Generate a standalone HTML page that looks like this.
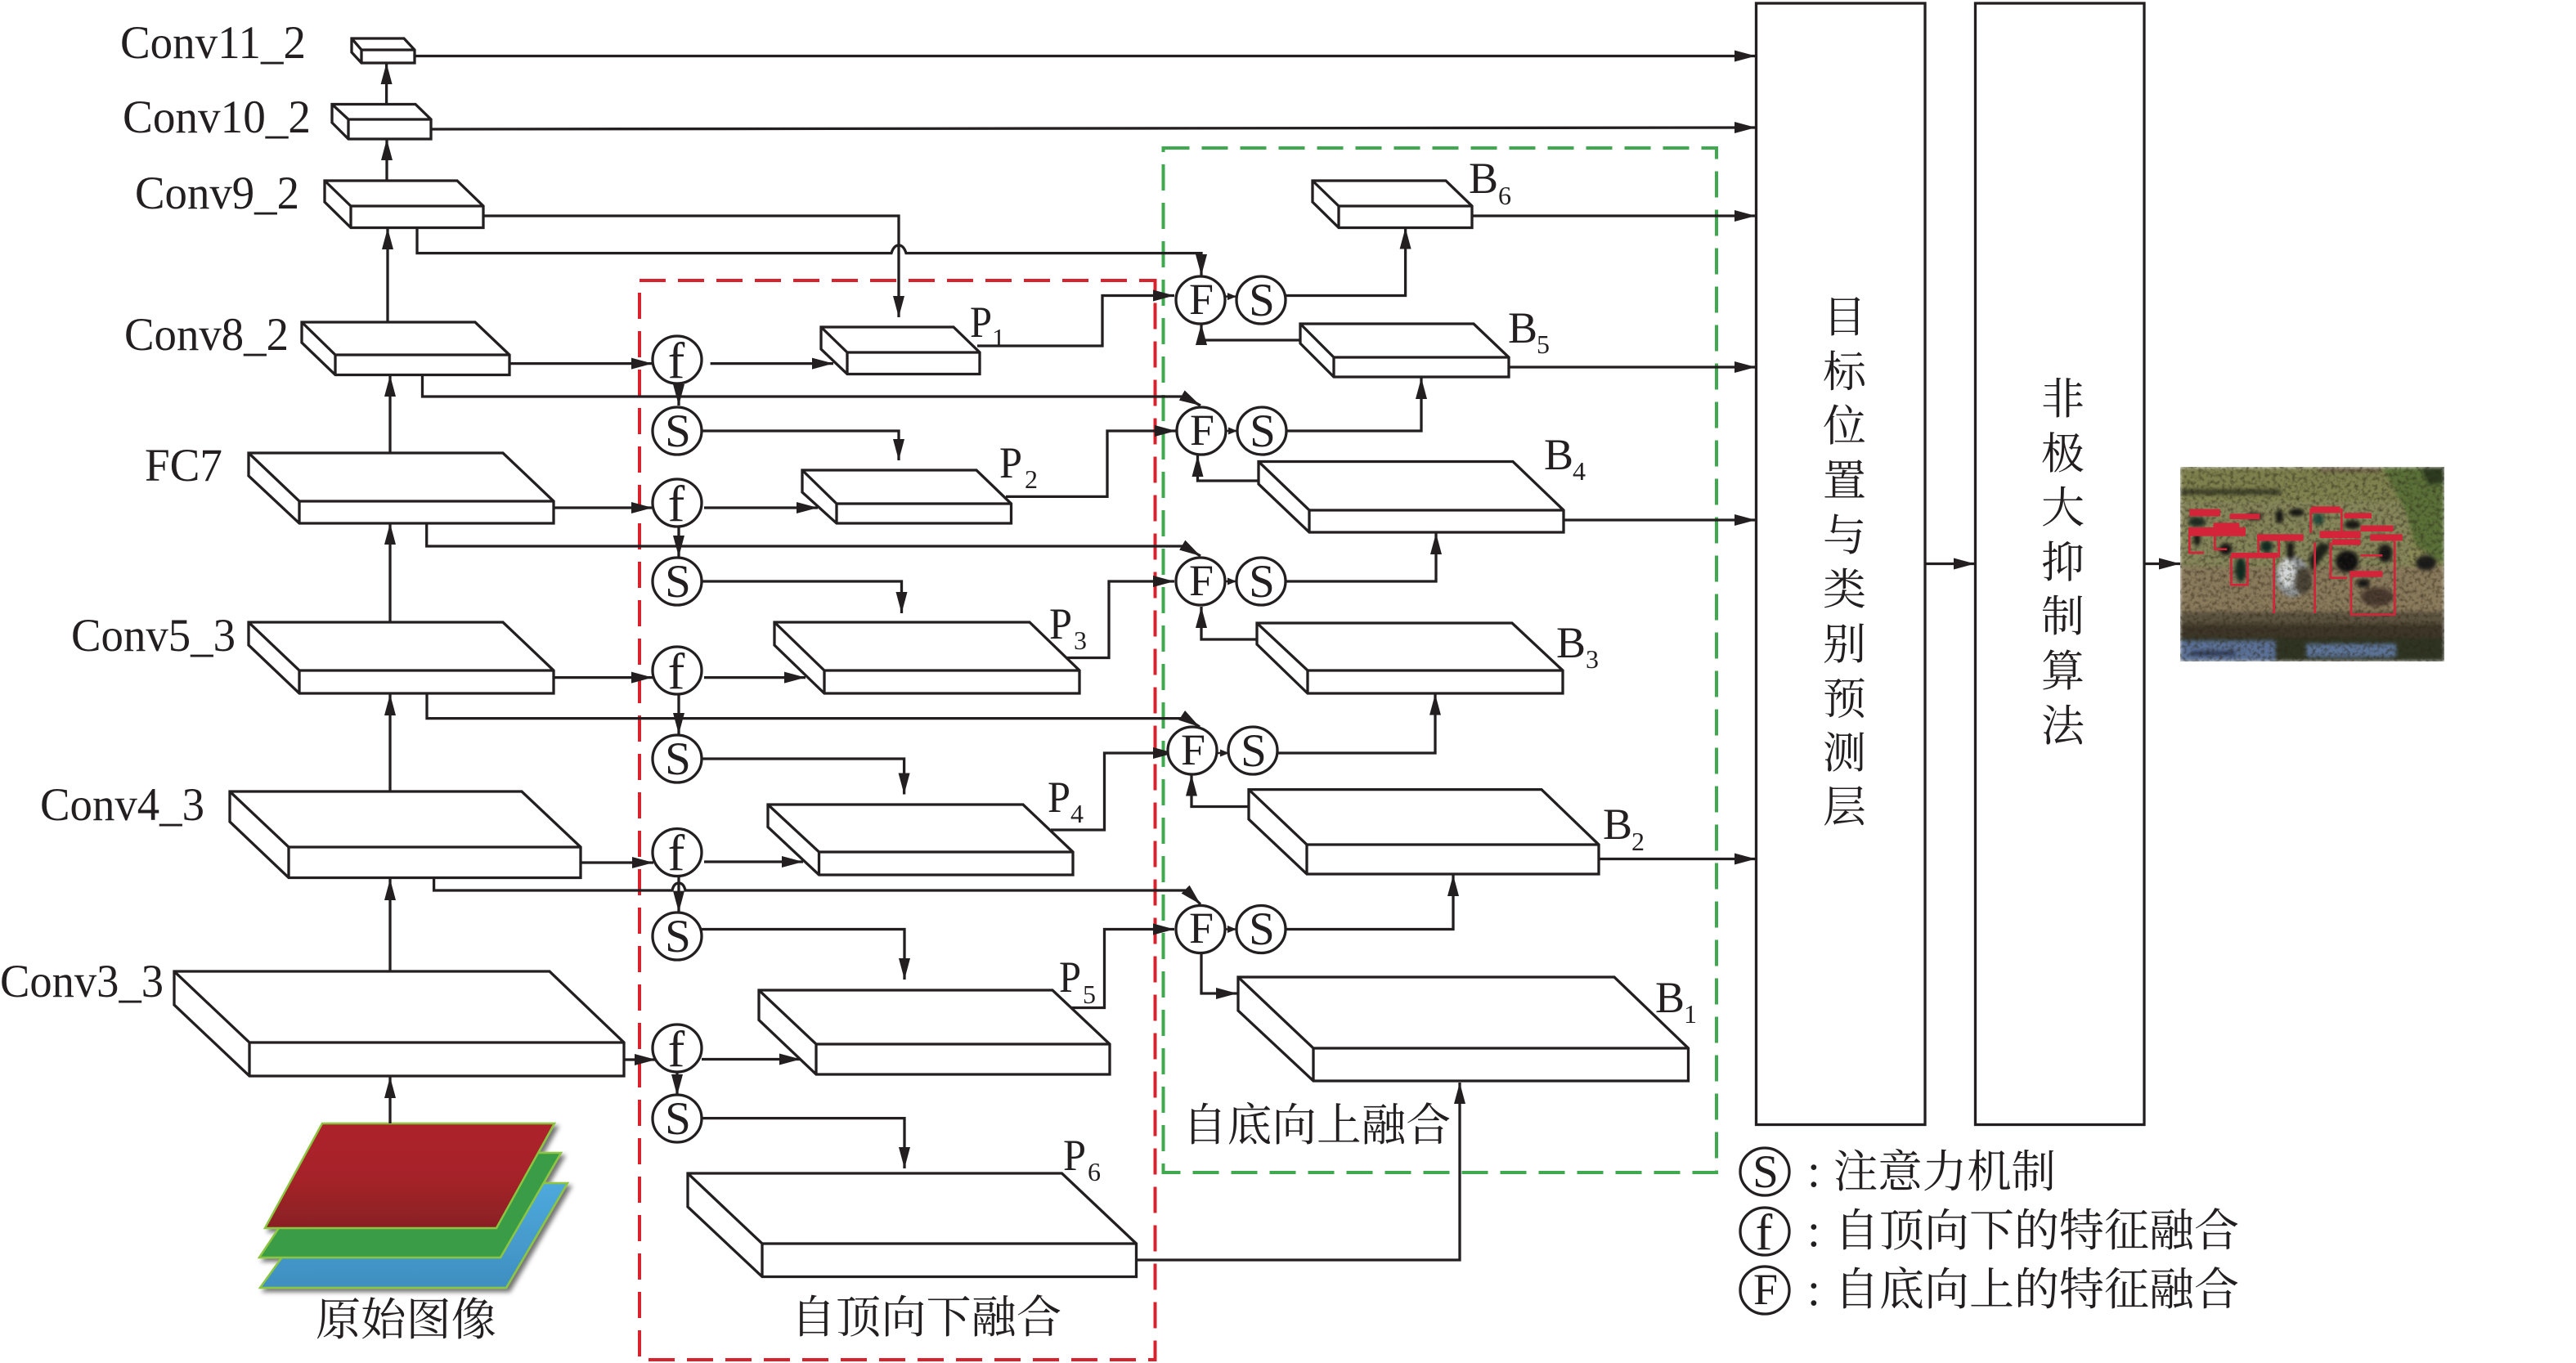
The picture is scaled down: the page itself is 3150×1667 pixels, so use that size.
<!DOCTYPE html>
<html><head><meta charset="utf-8"><style>
html,body{margin:0;padding:0;background:#fff}
svg{display:block}
text{fill:#231f20;font-family:"Liberation Serif",serif}
.l{font-size:57px}
.p{font-size:54px}
.u{font-size:32px}
.c{font-size:55px;font-family:"Liberation Serif","Noto Serif CJK SC",serif}
.z{font-family:"Noto Serif CJK SC","Liberation Serif",serif;font-size:53px}
.S{font-size:57px;text-anchor:middle}
.f{font-size:62px;text-anchor:middle}
.F{font-size:54px;text-anchor:middle}
</style></head><body>
<svg xmlns="http://www.w3.org/2000/svg" width="3150" height="1667" viewBox="0 0 3150 1667">
<defs>
<marker id="a" markerUnits="userSpaceOnUse" markerWidth="28" markerHeight="16" refX="26" refY="7" orient="auto"><path d="M0 0L26 7L0 14z" fill="#231f20"/></marker>
<marker id="b" markerUnits="userSpaceOnUse" markerWidth="12" markerHeight="10" refX="11" refY="4.5" orient="auto"><path d="M0 0L11 4.500L0 9z" fill="#231f20"/></marker>
<linearGradient id="gr" x1="0" y1="0" x2="0" y2="1"><stop offset="0" stop-color="#ad2329"/><stop offset=".5" stop-color="#a62329"/><stop offset="1" stop-color="#891f24"/></linearGradient>
<linearGradient id="gb" x1="0" y1="0" x2="0" y2="1"><stop offset="0" stop-color="#4ea9dc"/><stop offset="1" stop-color="#3f8fc0"/></linearGradient>
<filter id="sh" x="-10%" y="-10%" width="125%" height="125%"><feDropShadow dx="4" dy="4" stdDeviation="3" flood-color="#000" flood-opacity=".55"/></filter>
<linearGradient id="ph1" x1="0" y1="0" x2="0" y2="1"><stop offset="0" stop-color="#7c7f4c"/><stop offset=".5" stop-color="#8a8a58"/><stop offset="1" stop-color="#7c7a50"/></linearGradient>
<filter id="grain" x="0" y="0" width="100%" height="100%" color-interpolation-filters="sRGB"><feGaussianBlur in="SourceGraphic" stdDeviation="7" result="b"/><feTurbulence type="fractalNoise" baseFrequency=".07" numOctaves="2" seed="5"/><feColorMatrix values="0 0 0 0 .16  0 0 0 0 .14  0 0 0 0 .08  1.3 0 0 0 -.55" result="n"/><feMerge><feMergeNode in="b"/><feMergeNode in="n"/></feMerge></filter>
</defs>

<!-- dashed regions -->
<g fill="none" stroke-width="4" stroke-dasharray="32 15">
<rect x="782" y="343" width="630.500" height="1320" stroke="#d8232e"/>
<rect x="1422.500" y="181" width="676.500" height="1253" stroke="#3fa94f"/>
</g>

<!-- image layers -->
<g stroke="#8cc63f" stroke-width="2.500" filter="url(#sh)">
<polygon points="410,1447 694,1447 619,1575 318,1575" fill="url(#gb)"/>
<polygon points="402,1410 686,1410 612,1538 317,1538" fill="#3a9c46"/>
<polygon points="394,1374 678,1374 607,1502 324,1502" fill="url(#gr)"/>
</g>

<!-- connectors -->
<g fill="none" stroke="#231f20" stroke-width="3.300">
<path d="M507 68.500H2147" marker-end="url(#a)"/>
<path d="M527 158L2147 156" marker-end="url(#a)"/>
<path d="M591 264H1099V388" marker-end="url(#a)"/>
<path d="M510 278V309.600H1090Q1093 300 1099 300Q1105 300 1108 309.600H1469V337" marker-end="url(#a)"/>
<path d="M472.600 127V77" marker-end="url(#a)"/>
<path d="M473 221V170" marker-end="url(#a)"/>
<path d="M474 394V279" marker-end="url(#a)"/>
<path d="M477 554V459" marker-end="url(#a)"/>
<path d="M477 761V640" marker-end="url(#a)"/>
<path d="M477 968V849" marker-end="url(#a)"/>
<path d="M477 1188V1075" marker-end="url(#a)"/>
<path d="M477 1374V1317" marker-end="url(#a)"/>

<path d="M623 444.600H798" marker-end="url(#a)"/>
<path d="M868.600 444.600H1019" marker-end="url(#a)"/>
<path d="M516.500 458V485H1448L1468 496" marker-end="url(#a)"/>
<path d="M830 469V496" marker-end="url(#a)"/>
<path d="M858 527H1099V563" marker-end="url(#a)"/>

<path d="M677 621H798" marker-end="url(#a)"/>
<path d="M861 621H1000" marker-end="url(#a)"/>
<path d="M521.700 640V668H1448L1468 680" marker-end="url(#a)"/>
<path d="M830 644V681" marker-end="url(#a)"/>
<path d="M858 711H1102.500V750" marker-end="url(#a)"/>

<path d="M677 828.600H798" marker-end="url(#a)"/>
<path d="M861 828.600H985" marker-end="url(#a)"/>
<path d="M522 848V878.600H1451L1467 889" marker-end="url(#a)"/>
<path d="M830 848V898" marker-end="url(#a)"/>
<path d="M858 928H1105.600V971.500" marker-end="url(#a)"/>

<path d="M710 1055H799" marker-end="url(#a)"/>
<path d="M861 1054H982" marker-end="url(#a)"/>
<path d="M530.600 1062V1089H822Q824 1080 830 1080Q836 1080 838 1089H1451L1468 1106" marker-end="url(#a)"/>
<path d="M830 1071V1115.600" marker-end="url(#a)"/>
<path d="M858 1136.500H1106V1198" marker-end="url(#a)"/>

<path d="M763 1296H802" marker-end="url(#a)"/>
<path d="M858 1295.500H979" marker-end="url(#a)"/>
<path d="M828 1311V1340" marker-end="url(#a)"/>
<path d="M858 1367.600H1106V1429" marker-end="url(#a)"/>

<path d="M1195 423H1348V361.500H1436" marker-end="url(#a)"/>
<path d="M1230 607.400H1354V527H1438" marker-end="url(#a)"/>
<path d="M1304.600 804.500H1356V711H1436" marker-end="url(#a)"/>
<path d="M1285 1015H1350.500V921H1436" marker-end="url(#a)"/>
<path d="M1310 1232.500H1350.500V1136.500H1436" marker-end="url(#a)"/>
<path d="M1389.500 1541H1785V1324" marker-end="url(#a)"/>

<path d="M1572 361.500H1718.600V278.500" marker-end="url(#a)"/>
<path d="M1572 527H1738V462" marker-end="url(#a)"/>
<path d="M1566 711H1756V652" marker-end="url(#a)"/>
<path d="M1562.500 921H1755V848.700" marker-end="url(#a)"/>
<path d="M1566 1136.500H1777V1070" marker-end="url(#a)"/>

<path d="M1590 416H1469V396" marker-end="url(#a)"/>
<path d="M1539 588H1464.500V557" marker-end="url(#a)"/>
<path d="M1537 782H1469V742" marker-end="url(#a)"/>
<path d="M1527 986.500H1457V947.500" marker-end="url(#a)"/>
<path d="M1469 1165V1215H1513" marker-end="url(#a)"/>

<path d="M1800 264H2147" marker-end="url(#a)"/>
<path d="M1845 449H2147" marker-end="url(#a)"/>
<path d="M1912 636H2147" marker-end="url(#a)"/>
<path d="M1955 1050.500H2147" marker-end="url(#a)"/>
<path d="M2354 689.500H2415" marker-end="url(#a)"/>
<path d="M2622 689.500H2666" marker-end="url(#a)"/>
</g>

<!-- blocks -->
<g fill="#fff" stroke="#231f20" stroke-width="3.300" stroke-linejoin="miter">
<path d="M430 47H494L507 61V77H442L430 64Z M430 47L442 61H507 M442 61V77"/>
<path d="M406 127.500H508L527 146V170H426L406 150Z M406 127.500L426 146H527 M426 146V170"/>
<path d="M397 221H559L591 252V278.500H429L397 247Z M397 221L429 252H591 M429 252V278.500"/>
<path d="M369 394H581L623 434V458.500H410L369 419Z M369 394L410 434H623 M410 434V458.500"/>
<path d="M304 554H615L677 613V640H366L304 582Z M304 554L366 613H677 M366 613V640"/>
<path d="M304 761H615L677 820V848H366L304 789Z M304 761L366 820H677 M366 820V848"/>
<path d="M281 968H638L710 1036V1073.500H353L281 1005Z M281 968L353 1036H710 M353 1036V1073.500"/>
<path d="M213 1188H672L763 1275V1316H305L213 1229Z M213 1188L305 1275H763 M305 1275V1316"/>

<path d="M1004 400H1166L1198 431V457.500H1036L1004 427Z M1004 400L1036 431H1198 M1036 431V457.500"/>
<path d="M981 575H1194L1236.500 616V640H1023L981 602Z M981 575L1023 616H1236.500 M1023 616V640"/>
<path d="M947 761H1259L1320 820V848H1008L947 789Z M947 761L1008 820H1320 M1008 820V848"/>
<path d="M939 984H1251L1312 1042V1070H1001.500L939 1011.500Z M939 984L1001.500 1042H1312 M1001.500 1042V1070"/>
<path d="M928 1211H1287L1357 1277V1314H998L928 1247.500Z M928 1211L998 1277H1357 M998 1277V1314"/>
<path d="M841 1435H1298.500L1389.500 1521V1561.500H932L841 1476Z M841 1435L932 1521H1389.500 M932 1521V1561.500"/>

<path d="M1605 221H1768L1800 252V278.500H1637L1605 247Z M1605 221L1637 252H1800 M1637 252V278.500"/>
<path d="M1590 396H1802L1845 437V461H1631L1590 420Z M1590 396L1631 437H1845 M1631 437V461"/>
<path d="M1539 564.500H1850L1912 624V651H1601L1539 592Z M1539 564.500L1601 624H1912 M1601 624V651"/>
<path d="M1537 762H1849L1911 820V848H1599L1537 788Z M1537 762L1599 820H1911 M1599 820V848"/>
<path d="M1527 965.600H1885L1955 1033V1069H1598L1527 1002Z M1527 965.600L1598 1033H1955 M1598 1033V1069"/>
<path d="M1514 1195H1974L2064.500 1282V1322H1606L1514 1236Z M1514 1195L1606 1282H2064.500 M1606 1282V1322"/>
</g>

<!-- big boxes -->
<g fill="none" stroke="#231f20" stroke-width="3.300">
<rect x="2147.500" y="4" width="206.500" height="1371.500"/>
<rect x="2415.500" y="4" width="206.500" height="1371.500"/>
</g>

<!-- circles -->
<g fill="#fff" stroke="#231f20" stroke-width="3.300">
<ellipse cx="828" cy="440" rx="30" ry="29"/><ellipse cx="828" cy="527" rx="30" ry="29"/>
<ellipse cx="828" cy="615" rx="30" ry="29"/><ellipse cx="828" cy="711" rx="30" ry="29"/>
<ellipse cx="828" cy="820" rx="30" ry="29"/><ellipse cx="828" cy="928" rx="30" ry="29"/>
<ellipse cx="828" cy="1042.500" rx="30" ry="29"/><ellipse cx="828" cy="1145" rx="30" ry="29"/>
<ellipse cx="828" cy="1282" rx="30" ry="29"/><ellipse cx="828" cy="1368" rx="30" ry="29"/>
<ellipse cx="1468" cy="367" rx="30" ry="29"/><ellipse cx="1542" cy="367" rx="30" ry="29"/>
<ellipse cx="1469" cy="527" rx="30" ry="29"/><ellipse cx="1543" cy="527" rx="30" ry="29"/>
<ellipse cx="1468" cy="711" rx="30" ry="29"/><ellipse cx="1542" cy="711" rx="30" ry="29"/>
<ellipse cx="1458" cy="918" rx="30" ry="29"/><ellipse cx="1532" cy="918" rx="30" ry="29"/>
<ellipse cx="1468" cy="1136.500" rx="30" ry="29"/><ellipse cx="1542" cy="1136.500" rx="30" ry="29"/>
<ellipse cx="2158" cy="1433" rx="30" ry="29"/><ellipse cx="2158" cy="1506" rx="30" ry="29"/><ellipse cx="2158" cy="1578" rx="30" ry="29"/>
</g>
<g fill="none" stroke="#231f20" stroke-width="2.500">
<path d="M1497 362.600H1512" marker-end="url(#b)"/>
<path d="M1498 527H1513" marker-end="url(#b)"/>
<path d="M1497 711H1512" marker-end="url(#b)"/>
<path d="M1488 921H1503" marker-end="url(#b)"/>
<path d="M1497 1136.500H1512" marker-end="url(#b)"/>
</g>

<!-- circle letters -->
<text class="f" x="827" y="462">f</text><text class="S" x="829" y="546">S</text>
<text class="f" x="827" y="637">f</text><text class="S" x="829" y="730">S</text>
<text class="f" x="827" y="842">f</text><text class="S" x="829" y="947">S</text>
<text class="f" x="827" y="1064">f</text><text class="S" x="829" y="1164">S</text>
<text class="f" x="827" y="1304">f</text><text class="S" x="829" y="1387">S</text>
<text class="F" x="1469" y="384">F</text><text class="S" x="1543" y="386">S</text>
<text class="F" x="1470" y="544">F</text><text class="S" x="1544" y="546">S</text>
<text class="F" x="1469" y="728">F</text><text class="S" x="1543" y="730">S</text>
<text class="F" x="1459" y="935">F</text><text class="S" x="1533" y="937">S</text>
<text class="F" x="1469" y="1153">F</text><text class="S" x="1543" y="1155">S</text>
<text class="S" x="2159" y="1452">S</text><text class="f" x="2157" y="1528">f</text><text class="F" x="2159" y="1595">F</text>

<!-- layer labels -->
<text class="l" x="147" y="71" textLength="227" lengthAdjust="spacingAndGlyphs">Conv11_2</text>
<text class="l" x="150" y="162" textLength="230" lengthAdjust="spacingAndGlyphs">Conv10_2</text>
<text class="l" x="165" y="255" textLength="201" lengthAdjust="spacingAndGlyphs">Conv9_2</text>
<text class="l" x="152" y="428" textLength="201" lengthAdjust="spacingAndGlyphs">Conv8_2</text>
<text class="l" x="177" y="588" textLength="95" lengthAdjust="spacingAndGlyphs">FC7</text>
<text class="l" x="87" y="796" textLength="201" lengthAdjust="spacingAndGlyphs">Conv5_3</text>
<text class="l" x="49" y="1003" textLength="201" lengthAdjust="spacingAndGlyphs">Conv4_3</text>
<text class="l" x="0" y="1219" textLength="200" lengthAdjust="spacingAndGlyphs">Conv3_3</text>

<text class="p" x="1186" y="412" textLength="27" lengthAdjust="spacingAndGlyphs">P</text><text class="u" x="1213" y="424">1</text>
<text class="p" x="1222" y="584" textLength="28" lengthAdjust="spacingAndGlyphs">P</text><text class="u" x="1253" y="597">2</text>
<text class="p" x="1283" y="781" textLength="28" lengthAdjust="spacingAndGlyphs">P</text><text class="u" x="1313" y="794">3</text>
<text class="p" x="1281" y="993" textLength="28" lengthAdjust="spacingAndGlyphs">P</text><text class="u" x="1309" y="1006">4</text>
<text class="p" x="1295" y="1213" textLength="27" lengthAdjust="spacingAndGlyphs">P</text><text class="u" x="1324" y="1227">5</text>
<text class="p" x="1300" y="1431" textLength="28" lengthAdjust="spacingAndGlyphs">P</text><text class="u" x="1330" y="1444">6</text>
<text class="p" x="1796" y="236">B</text><text class="u" x="1832" y="250">6</text>
<text class="p" x="1844" y="419">B</text><text class="u" x="1879" y="432">5</text>
<text class="p" x="1888" y="574">B</text><text class="u" x="1923" y="587">4</text>
<text class="p" x="1903" y="804">B</text><text class="u" x="1939" y="817">3</text>
<text class="p" x="1960" y="1026">B</text><text class="u" x="1995" y="1040">2</text>
<text class="p" x="2024" y="1238">B</text><text class="u" x="2059" y="1251">1</text>

<!-- chinese labels -->
<text class="c" x="386" y="1633" textLength="221" lengthAdjust="spacingAndGlyphs">原始图像</text>
<text class="c" x="967" y="1630" textLength="331" lengthAdjust="spacingAndGlyphs">自顶向下融合</text>
<text class="c" x="1446" y="1395" textLength="328" lengthAdjust="spacingAndGlyphs">自底向上融合</text>
<text class="c" x="2242" y="1452" textLength="272" lengthAdjust="spacingAndGlyphs">注意力机制</text>
<text class="c" x="2243" y="1524" textLength="495" lengthAdjust="spacingAndGlyphs">自顶向下的特征融合</text>
<text class="c" x="2243" y="1596" textLength="495" lengthAdjust="spacingAndGlyphs">自底向上的特征融合</text>
<text class="l" x="2210" y="1451">:</text>
<text class="l" x="2210" y="1524">:</text>
<text class="l" x="2210" y="1596">:</text>

<g>
<text class="z" x="2229" y="406">目</text><text class="z" x="2229" y="473">标</text><text class="z" x="2229" y="539">位</text>
<text class="z" x="2229" y="606">置</text><text class="z" x="2229" y="673">与</text><text class="z" x="2229" y="739">类</text>
<text class="z" x="2229" y="806">别</text><text class="z" x="2229" y="873">预</text><text class="z" x="2229" y="939">测</text>
<text class="z" x="2229" y="1005">层</text>
<text class="z" x="2496" y="506">非</text><text class="z" x="2496" y="573">极</text><text class="z" x="2496" y="639">大</text>
<text class="z" x="2496" y="706">抑</text><text class="z" x="2496" y="772">制</text><text class="z" x="2496" y="839">算</text>
<text class="z" x="2496" y="906">法</text>
</g>

<!-- photo -->
<g transform="translate(2660 550) scale(.33333)">
<g filter="url(#grain)">
<rect x="18" y="64" width="969" height="712" fill="url(#ph1)"/>
<rect x="530" y="66" width="220" height="16" fill="#6e6048"/>
<rect x="18" y="145" width="370" height="20" fill="#3b3d28"/>
<rect x="18" y="190" width="840" height="240" fill="#85855a"/>
<rect x="18" y="430" width="969" height="165" fill="#8a7a5c"/>
<polygon points="760,64 987,64 987,420 880,350 850,240 800,140" fill="#5a7038"/>
<polygon points="900,64 987,64 987,120 930,130" fill="#2c3a20"/>
<rect x="18" y="595" width="969" height="90" fill="#5c5240"/>
<rect x="18" y="640" width="969" height="50" fill="#3e3628"/>
<rect x="18" y="690" width="969" height="86" fill="#2f3422"/>
<rect x="18" y="700" width="350" height="76" fill="#5a7096"/>
<rect x="480" y="712" width="330" height="50" fill="#5c7498"/>
<rect x="60" y="740" width="160" height="14" fill="#26314c"/>
<ellipse cx="430" cy="465" rx="62" ry="75" fill="#8f9496"/>
<ellipse cx="410" cy="450" rx="30" ry="55" fill="#d5d8d8"/>
<ellipse cx="470" cy="480" rx="30" ry="50" fill="#4a4438"/>
<rect x="410" y="340" width="24" height="60" fill="#101010"/>
<polygon points="500,450 560,370 570,350 530,340 490,400" fill="#1a1f18"/>
<ellipse cx="630" cy="410" rx="42" ry="40" fill="#0e0e10"/>
<ellipse cx="920" cy="415" rx="38" ry="28" fill="#1a1a1a"/>
<ellipse cx="740" cy="540" rx="60" ry="35" fill="#4a3a30"/>
<ellipse cx="690" cy="490" rx="24" ry="16" fill="#151515"/>
<ellipse cx="382" cy="245" rx="14" ry="26" fill="#111"/>
<ellipse cx="445" cy="230" rx="28" ry="14" fill="#111"/>
<ellipse cx="80" cy="330" rx="12" ry="24" fill="#111"/>
<ellipse cx="240" cy="440" rx="20" ry="45" fill="#0e2a20"/>
<ellipse cx="185" cy="365" rx="24" ry="22" fill="#141414"/>
<ellipse cx="335" cy="355" rx="22" ry="22" fill="#112a22"/>
<ellipse cx="525" cy="255" rx="20" ry="22" fill="#224a3c"/>
<ellipse cx="650" cy="275" rx="30" ry="16" fill="#141414"/>
<ellipse cx="770" cy="380" rx="26" ry="34" fill="#141414"/>
<ellipse cx="80" cy="265" rx="32" ry="18" fill="#1c2a22"/>
<ellipse cx="290" cy="245" rx="30" ry="14" fill="#2a1414"/>
</g>
<g fill="#d3243a">
<rect x="52" y="218" width="113" height="26"/>
<rect x="48" y="285" width="210" height="32"/>
<rect x="140" y="268" width="95" height="20"/>
<rect x="200" y="235" width="110" height="20"/>
<rect x="300" y="310" width="170" height="24"/>
<rect x="205" y="378" width="170" height="20"/>
<rect x="500" y="208" width="105" height="24"/>
<rect x="530" y="298" width="150" height="26"/>
<rect x="575" y="328" width="105" height="22"/>
<rect x="620" y="232" width="100" height="20"/>
<rect x="680" y="278" width="120" height="22"/>
<rect x="715" y="310" width="118" height="24"/>
<rect x="640" y="445" width="120" height="22"/>
</g>
<g fill="none" stroke="#d3243a" stroke-width="8">
<path d="M52 300V378H105"/>
<path d="M145 285V365H190"/>
<path d="M205 390V496H265V390"/>
<path d="M305 325V390H380V325"/>
<path d="M362 395V600"/>
<path d="M512 340V600"/>
<path d="M497 215V305"/>
<path d="M610 215V300"/>
<path d="M570 340V470H630"/>
<path d="M645 455V605H805V335"/>
<path d="M680 388H760"/>
</g>
</g>
</svg>
</body></html>
